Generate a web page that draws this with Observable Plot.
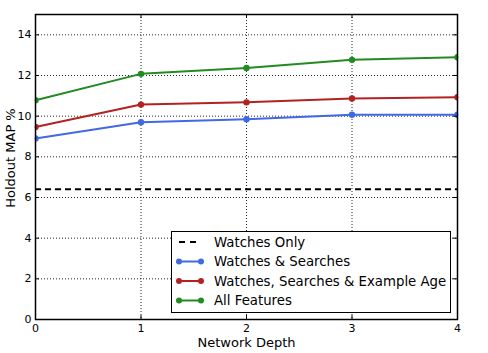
<!DOCTYPE html>
<html><head><meta charset="utf-8">
<script src="https://cdn.jsdelivr.net/npm/d3@7"></script>
<script src="https://cdn.jsdelivr.net/npm/@observablehq/plot@0.6"></script>
<style>
body{margin:0;background:#fff;font-family:"DejaVu Sans",sans-serif}
#wrap{position:relative;width:488px;height:353px}
#legend{position:absolute;left:171px;top:231px;width:280px;height:82px;border:1px solid #000;background:#fff;box-sizing:border-box}
#ylabel{position:absolute;left:10px;top:158px;transform:translate(-50%,-50%) rotate(-90deg);font-size:13px;color:#000;white-space:nowrap;line-height:1}
</style></head><body><div id="wrap"><div id="legend"></div><div id="ylabel">Holdout MAP %</div></div>
<script>
const depths = [0, 1, 2, 3, 4];
const watchesOnly = 6.4;
const watchesSearches = [8.9, 9.7, 9.85, 10.07, 10.07];
const watchesSearchesAge = [9.47, 10.57, 10.68, 10.87, 10.93];
const allFeatures = [10.78, 12.08, 12.37, 12.77, 12.9];
const seriesNames = ["Watches & Searches", "Watches, Searches & Example Age", "All Features"];
const seriesColors = ["#4169E1", "#B22222", "#228B22"];
const yTicks = [0, 2, 4, 6, 8, 10, 12, 14];
const xTicks = [0, 1, 2, 3, 4];

const seriesValues = [watchesSearches, watchesSearchesAge, allFeatures];
const rows = [];
seriesValues.forEach((vals, i) => depths.forEach((d, j) => rows.push({depth: d, value: vals[j], series: seriesNames[i]})));

const W = 488, H = 353, mL = 35, mR = 31, mT = 14, mB = 34;
const pw = W - mL - mR, ph = H - mT - mB;
const tick = 4;

const marks = [
  Plot.gridX([1, 2, 3], {stroke: "#000", strokeOpacity: 0.85, strokeDasharray: "1,2", strokeWidth: 1}),
  Plot.gridY(yTicks.filter(d => d > 0), {stroke: "#000", strokeOpacity: 0.85, strokeDasharray: "1,2", strokeWidth: 1}),
  Plot.ruleY([watchesOnly], {stroke: "#000", strokeWidth: 2, strokeDasharray: "6,4"})
];
seriesNames.forEach((name, i) => {
  const data = rows.filter(r => r.series === name);
  marks.push(Plot.line(data, {x: "depth", y: "value", stroke: seriesColors[i], strokeWidth: 2}));
  marks.push(Plot.dot(data, {x: "depth", y: "value", fill: seriesColors[i], r: 3.2, clip: true}));
});
marks.push(
  Plot.tickY(yTicks, {y: d => d, insetRight: pw - tick, stroke: "#000"}),
  Plot.tickY(yTicks, {y: d => d, insetLeft: pw - tick, stroke: "#000"}),
  Plot.tickX(xTicks, {x: d => d, insetTop: ph - tick, stroke: "#000"}),
  Plot.tickX(xTicks, {x: d => d, insetBottom: ph - tick, stroke: "#000"}),
  Plot.frame({stroke: "#000", strokeWidth: 1.5}),
  Plot.axisY(yTicks, {tickSize: 0, tickPadding: 4, fontSize: 11, label: null, color: "#000"}),
  Plot.axisX(xTicks, {tickSize: 0, tickPadding: 5, fontSize: 11, label: null, tickFormat: d => String(d)}),
  Plot.text(["Network Depth"], {frameAnchor: "bottom", dy: 27, fontSize: 13, fill: "#000"})
);

const chart = Plot.plot({
  width: W, height: H,
  marginLeft: mL, marginRight: mR, marginTop: mT, marginBottom: mB,
  x: {domain: [0, 4]},
  y: {domain: [0, 15]},
  style: {fontFamily: "DejaVu Sans", color: "#000", background: "#fff", overflow: "visible"},
  marks
});
document.getElementById("wrap").prepend(chart);

// legend
const legendItems = [{name: "Watches Only", color: "#000", dashed: true}]
  .concat(seriesNames.map((n, i) => ({name: n, color: seriesColors[i], dashed: false})));
const lsvg = d3.select("#legend").append("svg").attr("width", 278).attr("height", 80);
legendItems.forEach((it, i) => {
  const y = 10 + i * 19.5;
  const g = lsvg.append("g").attr("transform", `translate(0,${y})`);
  if (it.dashed) {
    g.append("line").attr("x1", 7).attr("x2", 29).attr("y1", 0).attr("y2", 0)
      .attr("stroke", "#000").attr("stroke-width", 2).attr("stroke-dasharray", "6,5");
  } else {
    g.append("line").attr("x1", 7).attr("x2", 29).attr("y1", 0).attr("y2", 0)
      .attr("stroke", it.color).attr("stroke-width", 2);
    g.append("circle").attr("cx", 7).attr("cy", 0).attr("r", 3).attr("fill", it.color);
    g.append("circle").attr("cx", 29).attr("cy", 0).attr("r", 3).attr("fill", it.color);
  }
  g.append("text").attr("x", 42).attr("y", 0).attr("dy", "0.35em")
    .attr("font-size", 13.3).attr("font-family", "DejaVu Sans").attr("fill", "#000").text(it.name);
});
</script></body></html>
